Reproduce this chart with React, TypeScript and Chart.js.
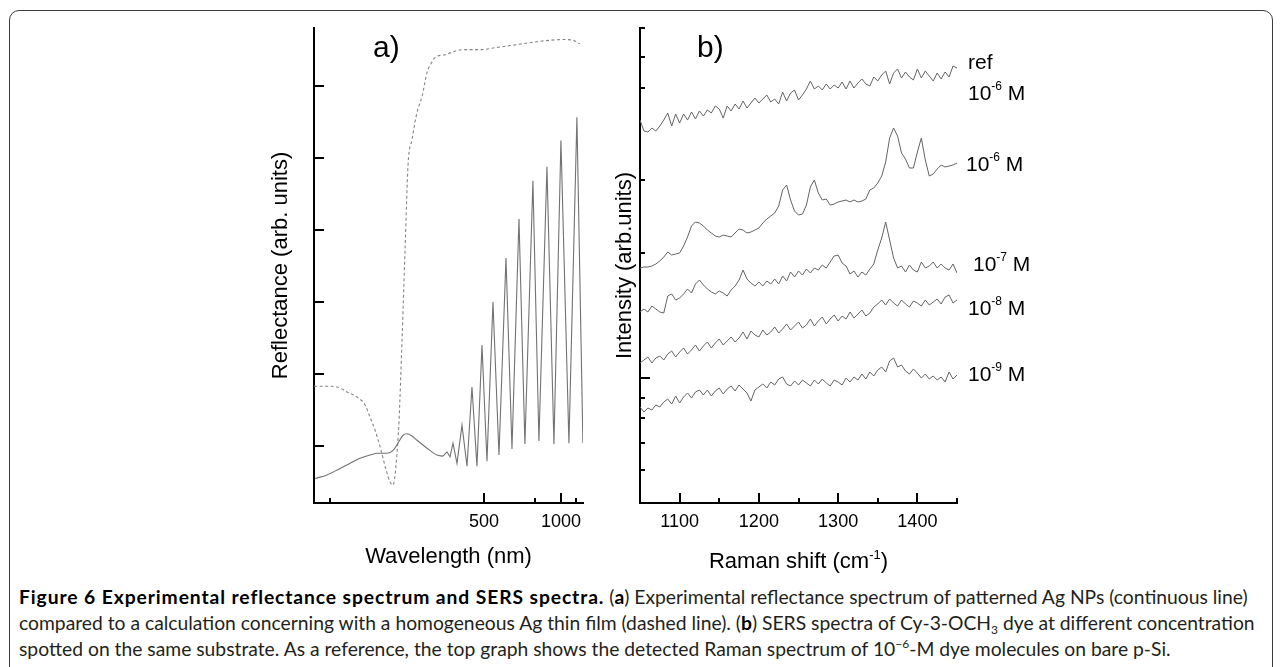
import React, { useEffect, useRef } from 'react';
import { Chart, registerables } from 'chart.js';

Chart.register(...registerables);

const AXIS_FONT = '"Liberation Sans", Arial, Helvetica, sans-serif';
const CAPTION_FONT = 'Lato, "Open Sans", sans-serif';

// ---------------- Panel a: reflectance (x axis linear in photon energy, labelled in nm) ----------------
const MEASURED_WL = [238.4, 247.6, 258.4, 267.4, 277.0, 287.3, 296.1, 306.7, 314.3, 320.8, 327.7, 333.3, 340.7, 348.4, 365.0, 383.1, 395.0, 403.0, 409.6, 416.2, 425.4, 437.5, 450.3, 463.8, 478.2, 493.6, 509.9, 531.0, 554.0, 583.4, 611.2, 647.2, 681.2, 733.1, 777.6, 846.2, 916.7, 1000, 1116, 1262, 1400];
const MEASURED_R = [0.55, 0.60, 0.69, 0.76, 0.83, 0.875, 0.90, 0.90, 0.94, 1.04, 1.15, 1.17, 1.14, 1.08, 0.97, 0.875, 0.86, 0.92, 0.85, 1.04, 0.76, 1.29, 0.72, 1.82, 0.72, 2.40, 0.79, 3.00, 0.875, 3.61, 0.96, 4.15, 1.03, 4.68, 1.07, 4.875, 1.03, 5.24, 1.04, 5.56, 1.04];
const MEASURED_SMOOTH_END = 16; // last index of the smooth (non-oscillating) part
const CALC_WL = [237.7, 246.0, 255.8, 264.6, 274.0, 282.1, 287.3, 292.8, 298.5, 305.6, 310.5, 314.3, 318.2, 322.2, 326.3, 330.5, 334.8, 340.7, 348.4, 356.5, 364.9, 373.8, 379.3, 399.0, 440.0, 487.3, 546.1, 636.4, 762.4, 875.0, 1026.7, 1184.6, 1327.6];
const CALC_R = [1.83, 1.83, 1.82, 1.75, 1.68, 1.57, 1.40, 1.22, 0.99, 0.67, 0.50, 0.46, 0.74, 1.36, 2.47, 3.72, 4.90, 5.25, 5.63, 5.85, 6.18, 6.33, 6.39, 6.43, 6.50, 6.50, 6.53, 6.57, 6.61, 6.63, 6.64, 6.63, 6.58];
const WL_MAJOR_TICKS = [500, 1000];
const WL_MINOR_TICKS = [250, 750, 1250];
const REFL_TICKS = [1, 2, 3, 4, 5, 6];
const WL_RANGE = [237.6, 1402];
const REFL_RANGE = [0.21, 6.8];

// ---------------- Panel b: SERS spectra ----------------
const RAMAN_SHIFT = [1050, 1055, 1060, 1065, 1070, 1075, 1080, 1085, 1090, 1095, 1100, 1105, 1110, 1115, 1120, 1125, 1130, 1135, 1140, 1145, 1150, 1155, 1160, 1165, 1170, 1175, 1180, 1185, 1190, 1195, 1200, 1205, 1210, 1215, 1220, 1225, 1230, 1235, 1240, 1245, 1250, 1255, 1260, 1265, 1270, 1275, 1280, 1285, 1290, 1295, 1300, 1305, 1310, 1315, 1320, 1325, 1330, 1335, 1340, 1345, 1350, 1355, 1360, 1365, 1370, 1375, 1380, 1385, 1390, 1395, 1400, 1405, 1410, 1415, 1420, 1425, 1430, 1435, 1440, 1445, 1450];
const REF_1E6 = [383, 372, 371, 375, 372, 377, 383, 390, 377, 389, 380, 389, 383, 391, 384, 392, 387, 393, 390, 397, 394, 385, 397, 392, 399, 394, 402, 395, 400, 405, 400, 404, 408, 401, 404, 399, 411, 402, 410, 413, 403, 408, 414, 422, 414, 417, 413, 419, 414, 418, 415, 421, 414, 422, 415, 420, 424, 419, 417, 426, 422, 428, 432, 419, 430, 434, 425, 431, 426, 423, 434, 425, 432, 427, 422, 430, 424, 431, 426, 437, 435];
const SERS_1E6 = [235, 236, 236, 237, 239, 242, 246, 251, 248, 249, 250, 257, 266, 277, 281, 280, 277, 273, 270, 267, 266, 268, 267, 266, 270, 274, 273, 270, 271, 273, 275, 280, 284, 287, 290, 297, 313, 318, 303, 292, 288, 289, 298, 316, 323, 310, 303, 304, 298, 299, 301, 302, 303, 301, 303, 301, 302, 304, 313, 315, 320, 327, 341, 365, 375, 367, 350, 344, 335, 335, 351, 365, 343, 327, 329, 334, 338, 336, 337, 338, 340];
const SERS_1E7 = [191, 194, 191, 197, 194, 191, 190, 207, 209, 203, 205, 209, 214, 210, 219, 223, 218, 214, 211, 209, 212, 210, 207, 213, 217, 223, 233, 224, 220, 217, 221, 217, 222, 219, 224, 219, 227, 222, 231, 226, 232, 228, 234, 230, 235, 233, 238, 235, 241, 247, 248, 240, 237, 229, 232, 226, 231, 228, 234, 239, 253, 265, 281, 263, 245, 235, 237, 231, 238, 233, 231, 241, 235, 237, 241, 235, 239, 235, 233, 239, 230];
const SERS_1E8 = [140, 143, 146, 140, 145, 147, 143, 149, 152, 146, 151, 155, 149, 153, 158, 152, 157, 161, 155, 160, 164, 158, 162, 166, 161, 165, 171, 164, 172, 168, 166, 173, 168, 171, 176, 170, 174, 179, 173, 177, 181, 175, 178, 184, 177, 182, 186, 179, 184, 188, 182, 187, 184, 191, 185, 189, 193, 187, 190, 196, 199, 203, 198, 204, 200, 197, 203, 199, 196, 202, 200, 197, 203, 198, 201, 204, 199, 206, 208, 200, 203];
const SERS_1E9 = [96, 91, 95, 93, 98, 96, 101, 104, 99, 107, 100, 106, 110, 105, 111, 113, 108, 113, 107, 112, 115, 109, 114, 117, 112, 118, 114, 110, 102, 113, 116, 119, 115, 121, 118, 124, 126, 119, 117, 122, 118, 123, 120, 117, 123, 119, 124, 120, 117, 123, 121, 118, 125, 121, 126, 123, 129, 124, 131, 127, 133, 136, 131, 142, 145, 136, 138, 132, 129, 134, 130, 125, 129, 124, 127, 123, 126, 121, 131, 124, 128];
const RAMAN_MAJOR_TICKS = [1100, 1200, 1300, 1400];
const RAMAN_MINOR_TICKS = [1150, 1250, 1350, 1450];
const INTENSITY_MAJOR_TICKS = [125];
const INTENSITY_MINOR_TICKS = [475, 446, 415, 323, 250, 105, 85, 60, 33];
const RAMAN_RANGE = [1050, 1450];
const INTENSITY_RANGE = [0, 475];

type Part = { t: string; sup?: boolean };
const sup = (e: string): Part[] => [{ t: '10' }, { t: e, sup: true }, { t: ' M' }];
// right-hand curve labels: text, anchored intensity level, offset from the axis end
const CURVE_LABELS: { parts: Part[]; y: number; dx: number }[] = [
  { parts: [{ t: 'ref' }], y: 442, dx: 11 },
  { parts: sup('-6'), y: 411, dx: 11 },
  { parts: sup('-6'), y: 340, dx: 9 },
  { parts: sup('-7'), y: 240, dx: 16 },
  { parts: sup('-8'), y: 196, dx: 11 },
  { parts: sup('-9'), y: 130, dx: 11 },
];

function richWidth(ctx: CanvasRenderingContext2D, parts: Part[], size: number, supSize: number) {
  let w = 0;
  for (const p of parts) {
    ctx.font = `${p.sup ? supSize : size}px ${AXIS_FONT}`;
    w += ctx.measureText(p.t).width;
  }
  return w;
}
function drawRich(ctx: CanvasRenderingContext2D, parts: Part[], x: number, yMid: number, size: number, supSize: number, supRise: number, align: 'left' | 'center') {
  const total = richWidth(ctx, parts, size, supSize);
  let cx = align === 'center' ? x - total / 2 : x;
  const baseline = yMid + size * 0.36;
  ctx.textAlign = 'left';
  ctx.textBaseline = 'alphabetic';
  for (const p of parts) {
    const fs = p.sup ? supSize : size;
    ctx.font = `${fs}px ${AXIS_FONT}`;
    ctx.fillText(p.t, cx, p.sup ? baseline - supRise : baseline);
    cx += ctx.measureText(p.t).width;
  }
}

const inwardTicks = {
  id: 'inwardTicks',
  afterDatasetsDraw(chart: any, _a: any, opts: any) {
    const { ctx, chartArea } = chart;
    const xs = chart.scales.x;
    const ys = chart.scales.y;
    ctx.save();
    ctx.strokeStyle = '#000';
    ctx.lineWidth = 2;
    const line = (x1: number, y1: number, x2: number, y2: number) => {
      ctx.beginPath();
      ctx.moveTo(x1, y1);
      ctx.lineTo(x2, y2);
      ctx.stroke();
    };
    (opts.x || []).forEach(([v, len]: number[]) => {
      const px = Math.round(xs.getPixelForValue(v));
      line(px, chartArea.bottom, px, chartArea.bottom - len);
    });
    (opts.y || []).forEach(([v, len]: number[]) => {
      const py = Math.round(ys.getPixelForValue(v));
      line(chartArea.left, py, chartArea.left + len, py);
    });
    ctx.restore();
  },
};

const annotations = {
  id: 'annotations',
  afterDraw(chart: any, _a: any, opts: any) {
    const { ctx, chartArea } = chart;
    ctx.save();
    ctx.fillStyle = '#000';
    if (opts.panel) {
      ctx.font = `30px ${AXIS_FONT}`;
      ctx.textAlign = 'left';
      ctx.textBaseline = 'alphabetic';
      ctx.fillText(opts.panel.text, chartArea.left + opts.panel.dx, chartArea.top + opts.panel.dy);
    }
    if (opts.xTitle) {
      const xs = chart.scales.x;
      drawRich(ctx, opts.xTitle, (xs.left + xs.right) / 2, xs.bottom - 20, 22, 13, 9, 'center');
    }
    if (opts.labels) {
      const ys = chart.scales.y;
      for (const l of opts.labels) {
        drawRich(ctx, l.parts, chartArea.right + l.dx, ys.getPixelForValue(l.y), 21, 12, 10, 'left');
      }
    }
    ctx.restore();
  },
};

function buildA(): any {
  const measured = MEASURED_WL.map((w, i) => ({ x: 1000 / w, y: MEASURED_R[i] }));
  const common = { borderColor: '#727272', borderWidth: 1.1, pointRadius: 0, fill: false };
  return {
    type: 'line',
    data: {
      datasets: [
        {
          label: 'patterned Ag NPs (experiment)',
          data: measured.slice(0, MEASURED_SMOOTH_END + 1),
          cubicInterpolationMode: 'monotone',
          ...common,
        },
        {
          label: 'patterned Ag NPs (experiment, fringes)',
          data: measured.slice(MEASURED_SMOOTH_END),
          tension: 0,
          ...common,
        },
        {
          label: 'homogeneous Ag film (calculation)',
          data: CALC_WL.map((w, i) => ({ x: 1000 / w, y: CALC_R[i] })),
          borderColor: '#858585',
          borderWidth: 1.1,
          borderDash: [3, 2.5],
          pointRadius: 0,
          cubicInterpolationMode: 'monotone',
          fill: false,
        },
      ],
    },
    options: {
      animation: false,
      responsive: false,
      devicePixelRatio: 1,
      layout: { padding: { top: 28, right: 17, left: 0, bottom: 0 } },
      plugins: {
        legend: { display: false },
        tooltip: { enabled: false },
        inwardTicks: {
          x: [...WL_MAJOR_TICKS.map((w) => [1000 / w, 10]), ...WL_MINOR_TICKS.map((w) => [1000 / w, 5])],
          y: REFL_TICKS.map((v) => [v, 10]),
        },
        annotations: { panel: { text: 'a)', dx: 59, dy: 29 } },
      },
      scales: {
        x: {
          type: 'linear',
          reverse: true,
          min: 1000 / WL_RANGE[1],
          max: 1000 / WL_RANGE[0],
          afterBuildTicks: (s: any) => {
            s.ticks = WL_MAJOR_TICKS.map((w) => ({ value: 1000 / w }));
          },
          afterFit: (s: any) => {
            s.height = 77;
          },
          ticks: {
            callback: (v: number) => String(Math.round(1000 / v)),
            font: { family: AXIS_FONT, size: 18 },
            color: '#000',
            padding: 8,
            maxRotation: 0,
            autoSkip: false,
          },
          grid: { display: false, drawTicks: false },
          border: { display: true, color: '#000', width: 2 },
          title: {
            display: true,
            text: 'Wavelength (nm)',
            font: { family: AXIS_FONT, size: 22 },
            color: '#000',
            padding: { top: 0, bottom: 10 },
          },
        },
        y: {
          type: 'linear',
          min: REFL_RANGE[0],
          max: REFL_RANGE[1],
          afterFit: (s: any) => {
            s.width = 84;
          },
          ticks: { display: false },
          grid: { display: false, drawTicks: false },
          border: { display: true, color: '#000', width: 2 },
          title: {
            display: true,
            text: 'Reflectance (arb. units)',
            font: { family: AXIS_FONT, size: 22 },
            color: '#000',
            padding: { top: 38, bottom: 0 },
          },
        },
      },
    },
    plugins: [inwardTicks, annotations],
  };
}

function buildB(): any {
  const series = [
    { label: 'ref 10^-6 M', values: REF_1E6 },
    { label: '10^-6 M', values: SERS_1E6 },
    { label: '10^-7 M', values: SERS_1E7 },
    { label: '10^-8 M', values: SERS_1E8 },
    { label: '10^-9 M', values: SERS_1E9 },
  ];
  return {
    type: 'line',
    data: {
      datasets: series.map((s) => ({
        label: s.label,
        data: RAMAN_SHIFT.map((x, i) => ({ x, y: s.values[i] })),
        borderColor: '#636363',
        borderWidth: 1,
        pointRadius: 0,
        tension: 0,
        fill: false,
      })),
    },
    options: {
      animation: false,
      responsive: false,
      devicePixelRatio: 1,
      layout: { padding: { top: 28, right: 123, left: 0, bottom: 0 } },
      plugins: {
        legend: { display: false },
        tooltip: { enabled: false },
        inwardTicks: {
          x: [...RAMAN_MAJOR_TICKS.map((v) => [v, 10]), ...RAMAN_MINOR_TICKS.map((v) => [v, 5])],
          y: [...INTENSITY_MAJOR_TICKS.map((v) => [v, 10]), ...INTENSITY_MINOR_TICKS.map((v) => [v, 5])],
        },
        annotations: {
          panel: { text: 'b)', dx: 57, dy: 29 },
          xTitle: [{ t: 'Raman shift (cm' }, { t: '-1', sup: true }, { t: ')' }],
          labels: CURVE_LABELS,
        },
      },
      scales: {
        x: {
          type: 'linear',
          min: RAMAN_RANGE[0],
          max: RAMAN_RANGE[1],
          afterBuildTicks: (s: any) => {
            s.ticks = RAMAN_MAJOR_TICKS.map((v) => ({ value: v }));
          },
          afterFit: (s: any) => {
            s.height = 77;
          },
          ticks: {
            callback: (v: number) => String(v),
            font: { family: AXIS_FONT, size: 18 },
            color: '#000',
            padding: 8,
            maxRotation: 0,
            autoSkip: false,
          },
          grid: { display: false, drawTicks: false },
          border: { display: true, color: '#000', width: 2 },
          title: { display: false },
        },
        y: {
          type: 'linear',
          min: INTENSITY_RANGE[0],
          max: INTENSITY_RANGE[1],
          afterFit: (s: any) => {
            s.width = 40;
          },
          ticks: { display: false },
          grid: { display: false, drawTicks: false },
          border: { display: true, color: '#000', width: 2 },
          title: {
            display: true,
            text: 'Intensity (arb.units)',
            font: { family: AXIS_FONT, size: 22 },
            color: '#000',
            padding: { top: 12, bottom: 0 },
          },
        },
      },
    },
    plugins: [inwardTicks, annotations],
  };
}

const lineStyle: React.CSSProperties = {
  position: 'absolute',
  left: 19,
  whiteSpace: 'nowrap',
  fontFamily: CAPTION_FONT,
  fontSize: 19.3,
  lineHeight: '20px',
  color: '#231f20',
};
const boldStyle: React.CSSProperties = { color: '#000', fontWeight: 700 };
const subSup: React.CSSProperties = { fontSize: 12, lineHeight: 0, position: 'relative' };

export default function App() {
  const aRef = useRef<HTMLCanvasElement>(null);
  const bRef = useRef<HTMLCanvasElement>(null);
  useEffect(() => {
    const ca = new Chart(aRef.current as HTMLCanvasElement, buildA());
    const cb = new Chart(bRef.current as HTMLCanvasElement, buildB());
    return () => {
      ca.destroy();
      cb.destroy();
    };
  }, []);
  return (
    <div style={{ position: 'absolute', left: 0, top: 0, width: 1282, height: 667, overflow: 'hidden', background: '#fff' }}>
      <div
        style={{
          position: 'absolute',
          left: 9,
          top: 10,
          width: 1264,
          height: 720,
          border: '1.5px solid #3c3c3c',
          borderRadius: 10,
          boxSizing: 'border-box',
        }}
      />
      <canvas ref={aRef} width={370} height={580} style={{ position: 'absolute', left: 230, top: 0, width: 370, height: 580 }} />
      <canvas ref={bRef} width={480} height={580} style={{ position: 'absolute', left: 600, top: 0, width: 480, height: 580 }} />
      <div style={{ ...lineStyle, top: 587 }}>
        <span style={{ ...boldStyle, letterSpacing: 0.9 }}>Figure 6 Experimental reflectance spectrum and SERS spectra.</span> (<span style={boldStyle}>a</span>) Experimental reflectance spectrum of patterned Ag NPs (continuous line)
      </div>
      <div style={{ ...lineStyle, top: 613 }}>
        compared to a calculation concerning with a homogeneous Ag thin film (dashed line). (<span style={boldStyle}>b</span>) SERS spectra of Cy-3-OCH<span style={{ ...subSup, top: 4 }}>3</span> dye at different concentration
      </div>
      <div style={{ ...lineStyle, top: 639 }}>
        spotted on the same substrate. As a reference, the top graph shows the detected Raman spectrum of 10<span style={{ ...subSup, top: -8 }}>−6</span>-M dye molecules on bare p-Si.
      </div>
    </div>
  );
}
